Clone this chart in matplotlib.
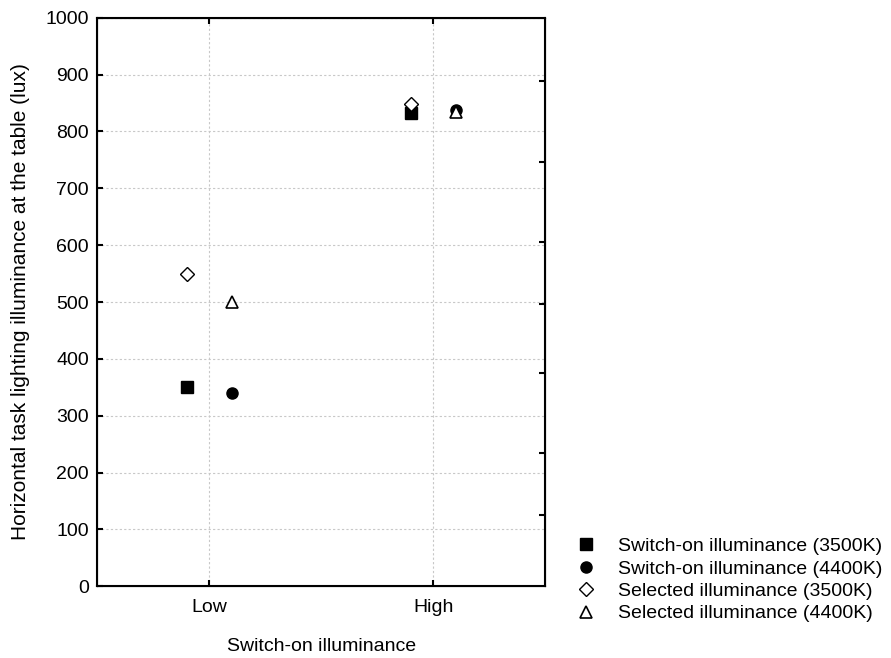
import matplotlib.pyplot as plt
import numpy as np

plt.rcParams['font.family'] = ['Liberation Sans', 'DejaVu Sans']

# data
categories = ['Low', 'High']
switch_on_3500 = [350, 832]
switch_on_4400 = [340, 838]
selected_3500 = [550, 848]
selected_4400 = [500, 835]

x = np.arange(1, len(categories) + 1)
off = 0.1

fig = plt.figure(figsize=(8.91, 6.58), dpi=100)
ax = fig.add_axes([0.109, 0.109, 0.503, 0.864])

ax.plot(x - off, switch_on_3500, 's', color='black', markersize=9, label='Switch-on illuminance (3500K)')
ax.plot(x + off, switch_on_4400, 'o', color='black', markersize=8, label='Switch-on illuminance (4400K)')
ax.plot(x - off, selected_3500, 'D', markerfacecolor='white', markeredgecolor='black',
        markersize=7, markeredgewidth=1, label='Selected illuminance (3500K)')
ax.plot(x + off, selected_4400, '^', markerfacecolor='white', markeredgecolor='black',
        markersize=8, markeredgewidth=1.2, label='Selected illuminance (4400K)')

ax.set_xlim(0.5, 2.5)
ax.set_ylim(0, 1000)
ax.set_xticks(x)
ax.set_xticklabels(categories)
ax.set_yticks(np.arange(0, 1001, 100))
ax.tick_params(direction='in', length=4, width=1.5, labelsize=14, top=True)
ax.tick_params(axis='x', pad=9)
ax.tick_params(axis='y', right=False, pad=6)
ax.grid(True, linestyle=(0, (2, 2)), color='#c8c8c8', linewidth=0.8)
for s in ax.spines.values():
    s.set_linewidth(1.5)

# right side ticks sit at their own positions in the original
ax2 = ax.twinx()
ax2.set_ylim(0, 1000)
ax2.set_yticks([889, 746, 606, 496, 375, 234, 125])
ax2.set_yticklabels([])
ax2.tick_params(direction='in', length=4, width=1.5)

ax.set_xlabel('Switch-on illuminance', fontsize=14, labelpad=16)
ax.set_ylabel('Horizontal task lighting illuminance at the table (lux)', fontsize=15, labelpad=11)

ax.legend(loc='upper left', bbox_to_anchor=(0.632, 0.198), bbox_transform=fig.transFigure,
          frameon=False, fontsize=14, handletextpad=0.9, labelspacing=0.25, borderpad=0,
          handlelength=1.4)

fig.savefig('out.png', dpi=100)
